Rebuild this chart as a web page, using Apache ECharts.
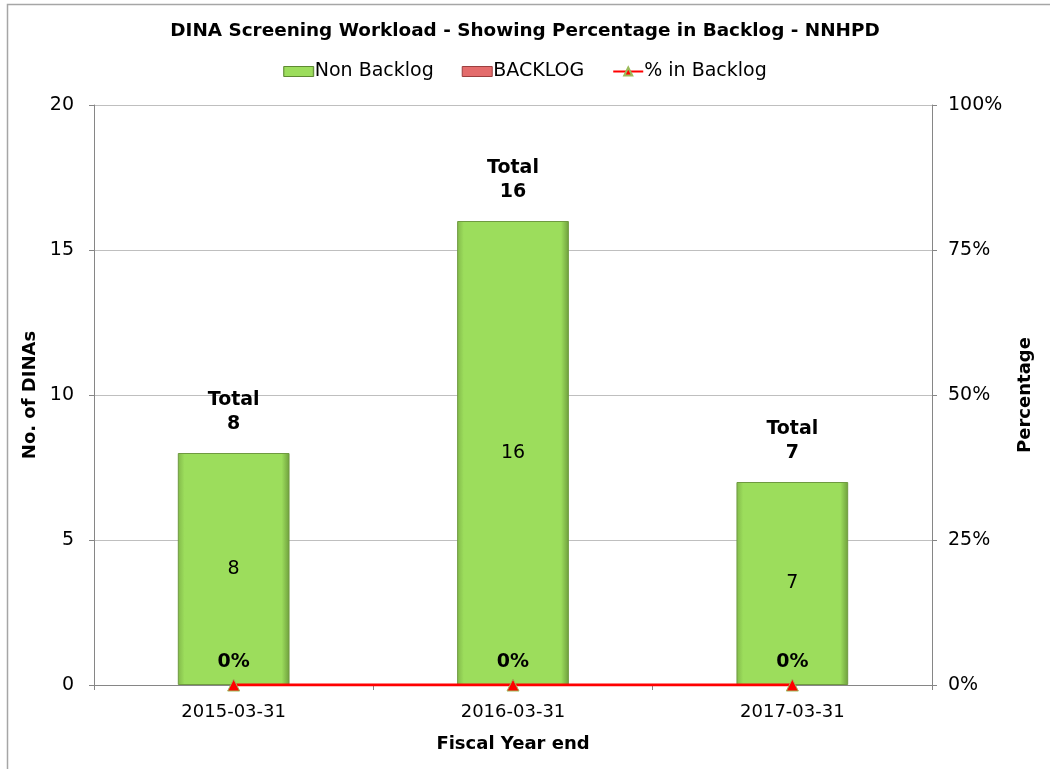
<!DOCTYPE html>
<html><head><meta charset="utf-8">
<script src="https://cdn.jsdelivr.net/npm/echarts@6/dist/echarts.min.js"></script>
<style>html,body{margin:0;padding:0;background:#fff}#c{width:1050px;height:769px}</style>
</head><body><div id="c"></div>
<script>
const categories = ['2015-03-31', '2016-03-31', '2017-03-31'];
const nonBacklog = [8, 16, 7];
const backlog = [0, 0, 0];
const pctBacklog = [0, 0, 0];
const totals = [8, 16, 7];
const leftTicks = [0, 5, 10, 15, 20];

const F = '"DejaVu Sans", "Liberation Sans", Arial, sans-serif';
const greenGrad = { type: 'linear', x: 0, y: 0, x2: 1, y2: 0, colorStops: [
  { offset: 0, color: '#82B94A' }, { offset: 0.06, color: '#9CDD5C' },
  { offset: 0.93, color: '#9CDD5C' }, { offset: 1, color: '#6E9E3C' }] };
const chart = echarts.init(document.getElementById('c'));
chart.setOption({
  animation: false,
  backgroundColor: '#fff',
  textStyle: { fontFamily: F },
  title: {
    text: 'DINA Screening Workload - Showing Percentage in Backlog - NNHPD',
    left: 'center', top: 17,
    textStyle: { fontFamily: F, fontSize: 18.4, fontWeight: 'bold', color: '#000' }
  },
  legend: {
    top: 57, left: 'center', itemGap: 28, itemWidth: 30, itemHeight: 10,
    data: [
      { name: 'Non Backlog', icon: 'rect', itemStyle: { color: greenGrad, borderColor: '#5E8A32', borderWidth: 1 } },
      { name: 'BACKLOG', icon: 'rect', itemStyle: { color: '#E46C6C', borderColor: '#9B3F3F', borderWidth: 1 } },
      { name: '% in Backlog' }
    ],
    textStyle: { fontFamily: F, fontSize: 19, color: '#000', padding: [0, 0, 0, -4] }
  },
  grid: { left: 94, right: 118, top: 105, bottom: 84 },
  xAxis: {
    type: 'category', data: categories,
    axisLine: { lineStyle: { color: '#868686', width: 1 } },
    axisTick: { show: true, length: 5, lineStyle: { color: '#868686' } },
    axisLabel: { fontFamily: F, fontSize: 18, color: '#000', margin: 18 },
    name: 'Fiscal Year end', nameLocation: 'middle', nameGap: 50,
    nameTextStyle: { fontFamily: F, fontSize: 18, fontWeight: 'bold', color: '#000' }
  },
  yAxis: [{
    type: 'value', min: leftTicks[0], max: leftTicks[leftTicks.length - 1], interval: 5,
    axisLine: { show: true, lineStyle: { color: '#868686' } },
    axisTick: { show: true, length: 5, lineStyle: { color: '#868686' } },
    splitLine: { lineStyle: { color: '#BFBFBF' } },
    axisLabel: { fontFamily: F, fontSize: 19, color: '#000', margin: 20 },
    name: 'No. of DINAs', nameLocation: 'middle', nameGap: 53, nameRotate: 90,
    nameTextStyle: { fontFamily: F, fontSize: 18, fontWeight: 'bold', color: '#000' }
  }, {
    type: 'value', min: 0, max: 1, interval: 0.25, position: 'right',
    axisLine: { show: true, lineStyle: { color: '#868686' } },
    axisTick: { show: true, length: 5, lineStyle: { color: '#868686' } },
    splitLine: { show: false },
    axisLabel: { fontFamily: F, fontSize: 19, color: '#000', margin: 16,
      formatter: v => Math.round(v * 100) + '%' },
    name: 'Percentage', nameLocation: 'middle', nameGap: 84, nameRotate: 90,
    nameTextStyle: { fontFamily: F, fontSize: 18, fontWeight: 'bold', color: '#000' }
  }],
  series: [{
    name: 'Non Backlog', type: 'bar', stack: 's', data: nonBacklog, barWidth: '40%',
    itemStyle: { color: greenGrad, borderColor: '#6F9A40', borderWidth: 1 },
    label: { show: true, position: 'inside', fontFamily: F, fontSize: 19, color: '#000' }
  }, {
    name: 'BACKLOG', type: 'bar', stack: 's', data: backlog, barWidth: '40%',
    itemStyle: { color: '#E46C6C', borderWidth: 0 }
  }, {
    name: 'Total', type: 'scatter', data: totals, symbolSize: 1,
    itemStyle: { opacity: 0 },
    label: { show: true, position: 'top', distance: 16, formatter: p => 'Total\n' + p.value,
      fontFamily: F, fontSize: 19, fontWeight: 'bold', color: '#000', lineHeight: 24, opacity: 1 },
    z: 6
  }, {
    name: '% in Backlog', type: 'line', yAxisIndex: 1, data: pctBacklog,
    lineStyle: { color: '#FF0000', width: 3 },
    symbol: 'triangle', symbolSize: 12,
    itemStyle: { color: '#FF0000', borderColor: '#9BBB59', borderWidth: 1 },
    label: { show: true, position: 'top', distance: 7,
      formatter: p => Math.round(p.value * 100) + '%',
      fontFamily: F, fontSize: 19, fontWeight: 'bold', color: '#000' },
    z: 5
  }],
  graphic: [{
    type: 'rect', shape: { x: 7.5, y: 4.5, width: 1100, height: 800 },
    style: { fill: 'none', stroke: '#A6A6A6', lineWidth: 1.5 }, silent: true
  }]
});
</script></body></html>
